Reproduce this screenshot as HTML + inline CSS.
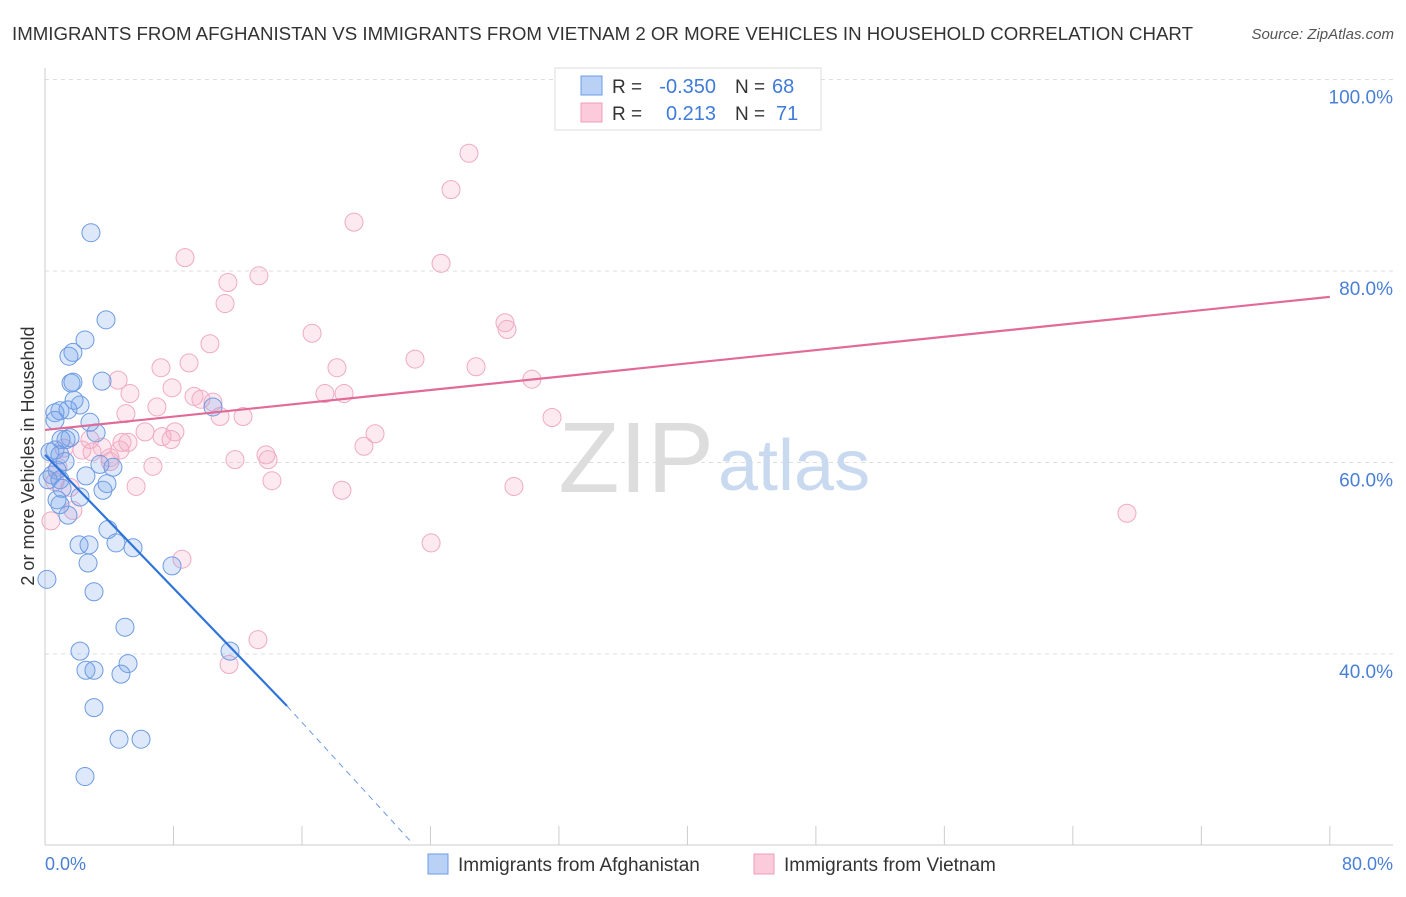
<!DOCTYPE html>
<html><head><meta charset="utf-8"><style>
body{margin:0;background:#fff;font-family:"Liberation Sans",sans-serif}
svg text{font-family:"Liberation Sans",sans-serif}
</style></head><body>
<svg id="chart" width="1406" height="892">
<text x="12" y="40" font-size="18" fill="#333" textLength="1181" lengthAdjust="spacingAndGlyphs">IMMIGRANTS FROM AFGHANISTAN VS IMMIGRANTS FROM VIETNAM 2 OR MORE VEHICLES IN HOUSEHOLD CORRELATION CHART</text>
<text x="1394" y="39" font-size="15" fill="#555" font-style="italic" text-anchor="end">Source: ZipAtlas.com</text>
<g id="grid"></g>
<text x="714" y="492" font-size="100" fill="#ddd" font-family="Liberation Serif" text-anchor="end">ZIP</text>
<text x="718" y="490" font-size="72" fill="#c9d9ef" text-anchor="start">atlas</text>
<g id="marks"></g>
<text transform="translate(34,456) rotate(-90)" font-size="18" fill="#333" text-anchor="middle">2 or more Vehicles in Household</text>
<text x="45" y="870" font-size="18" fill="#4a7fd6">0.0%</text>
<text x="1393" y="870" font-size="18" fill="#4a7fd6" text-anchor="end">80.0%</text>
<g>
<rect x="555" y="68" width="266" height="62" fill="#fff" stroke="#ddd"/>
<rect x="581" y="76" width="21" height="19" fill="#b9d1f5" stroke="#6b9be6"/>
<rect x="581" y="103" width="21" height="19" fill="#fbcbdb" stroke="#ee9cb9"/>
<text x="612" y="93" font-size="19" fill="#333">R =</text>
<text x="716" y="93" font-size="20" fill="#3f7bd8" text-anchor="end">-0.350</text>
<text x="735" y="93" font-size="19" fill="#333">N =</text>
<text x="772" y="93" font-size="20" fill="#3f7bd8">68</text>
<text x="612" y="120" font-size="19" fill="#333">R =</text>
<text x="716" y="120" font-size="20" fill="#3f7bd8" text-anchor="end">0.213</text>
<text x="735" y="120" font-size="19" fill="#333">N =</text>
<text x="776" y="120" font-size="20" fill="#3f7bd8">71</text>
</g>
<g>
<rect x="428" y="854" width="20" height="20" fill="#b9d1f5" stroke="#6b9be6"/>
<text x="458" y="871" font-size="19" fill="#333">Immigrants from Afghanistan</text>
<rect x="754" y="854" width="20" height="20" fill="#fbcbdb" stroke="#ee9cb9"/>
<text x="784" y="871" font-size="19" fill="#333">Immigrants from Vietnam</text>
</g>
</svg>
<script>
const yTicks=[40,60,80,100];
const yTickLabels=["40.0%","60.0%","80.0%","100.0%"];
const xTicks=[0,8,16,24,32,40,48,56,64,72,80];
const blueX=[2.86,3.8,2.49,1.74,1.49,1.62,1.74,3.55,2.18,1.81,0.93,0.62,0.62,1.43,2.8,1.31,1.56,1.0,3.18,0.62,0.31,0.93,1.25,0.75,0.44,0.19,0.93,2.55,3.42,4.23,3.61,3.86,0.93,1.43,2.18,3.92,2.12,2.74,4.42,5.48,2.68,7.91,3.05,4.98,2.18,11.52,2.55,3.05,5.17,4.73,3.05,4.61,5.98,2.49,0.12,10.46,1.06,0.75];
const blueY=[84.0,74.9,72.8,71.5,71.1,68.3,68.4,68.5,66.0,66.5,65.4,65.2,64.4,65.5,64.2,62.4,62.6,62.4,63.1,61.3,61.1,60.8,60.1,59.2,58.7,58.2,58.2,58.6,59.8,59.5,57.1,57.8,55.6,54.5,56.4,53.0,51.4,51.4,51.6,51.1,49.5,49.2,46.5,42.8,40.3,40.3,38.3,38.3,39.0,37.9,34.4,31.1,31.1,27.2,47.8,65.8,57.3,56.1];
const pinkX=[26.4,25.28,19.24,8.72,24.66,13.32,11.39,11.21,16.63,28.64,28.77,10.27,18.18,23.04,26.84,7.22,8.97,4.55,5.29,30.32,7.91,17.43,18.62,9.28,10.46,6.97,5.04,9.71,12.33,31.57,10.9,8.09,6.23,7.29,7.85,20.55,4.79,3.55,5.17,4.67,2.3,2.93,4.05,6.72,11.83,13.76,13.89,19.86,14.13,5.67,29.2,18.49,0.62,1.56,1.74,0.37,24.04,8.53,13.26,11.46,67.37,2.8,1.18,4.05,0.81];
const pinkY=[92.3,88.5,85.1,81.4,80.8,79.5,78.8,76.6,73.5,74.6,73.9,72.4,69.9,70.8,70.0,69.9,70.4,68.6,67.2,68.7,67.8,67.2,67.2,66.9,66.3,65.8,65.1,66.6,64.8,64.7,64.8,63.2,63.2,62.7,62.4,63.0,62.1,61.6,62.1,61.3,61.3,61.1,60.5,59.6,60.3,60.8,60.3,61.7,58.1,57.5,57.5,57.1,58.0,57.4,55.0,53.9,51.6,49.9,41.5,38.9,54.7,62.4,61.5,60.1,59.5];
const blueTrendX=[0,15.07], blueTrendY=[60.8,34.57];
const blueDashX=[15.07,22.73], blueDashY=[34.57,20.5];
const pinkTrendX=[0,80], pinkTrendY=[63.4,77.3];
const NS="http://www.w3.org/2000/svg";
const sx=v=>45+v*16.06, sy=v=>845.5-(v-20)*9.575;
function mk(t,a,p){const e=document.createElementNS(NS,t);for(const k in a)e.setAttribute(k,a[k]);p.appendChild(e);return e;}
const grid=document.getElementById('grid'), marks=document.getElementById('marks');
yTicks.forEach((t,i)=>{const g=mk('line',{x1:45,x2:1393,y1:sy(t),y2:sy(t),stroke:'#ddd','stroke-dasharray':'4,4'},grid);


const l=mk('text',{x:1393,y:sy(t)+24,'font-size':19,fill:'#4a7fd6','text-anchor':'end'},grid);l.textContent=yTickLabels[i];

});
const ax=mk('line',{x1:45,x2:1393,y1:845,y2:845,stroke:'#ccc'},grid);


const ay=mk('line',{x1:45,x2:45,y1:68,y2:845,stroke:'#ccc'},grid);


xTicks.forEach(t=>{const k=mk('line',{x1:sx(t),x2:sx(t),y1:826,y2:845,stroke:'#ccc'},grid);

});
function pts(X,Y,fill,stroke,name){X.forEach((x,i)=>{const c=mk('circle',{cx:sx(x),cy:sy(Y[i]),r:9,fill:fill,stroke:stroke,'stroke-width':1},marks);

});}
pts(pinkX,pinkY,'rgba(244,170,196,0.25)','#f0aac3','vietnam-point');
pts(blueX,blueY,'rgba(120,165,235,0.25)','#6d9be3','afghanistan-point');
function ln(X,Y,col,dash,name){const l=mk('line',{x1:sx(X[0]),y1:sy(Y[0]),x2:sx(X[1]),y2:sy(Y[1]),stroke:col,'stroke-width':dash?1:2.2},marks);if(dash)l.setAttribute('stroke-dasharray','6,5');

}
ln(pinkTrendX,pinkTrendY,'#e26a97',false,'vietnam-trend-line');
ln(blueTrendX,blueTrendY,'#2f74d8',false,'afghanistan-trend-line');
ln(blueDashX,blueDashY,'#6b9be6',true,'afghanistan-trend-extension');
</script>
</body></html>
